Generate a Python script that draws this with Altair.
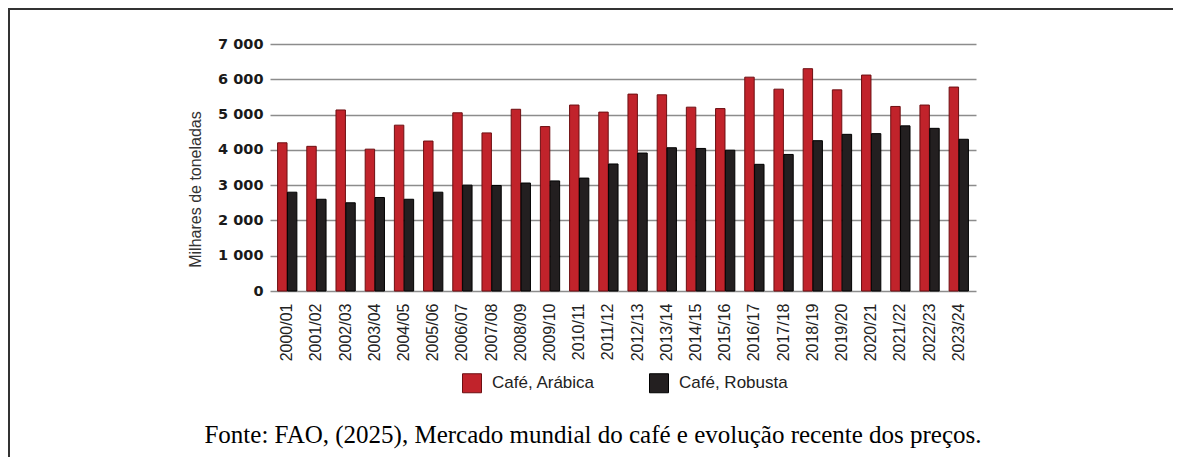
import altair as alt
import pandas as pd

seasons = ["2000/01", "2001/02", "2002/03", "2003/04", "2004/05", "2005/06",
           "2006/07", "2007/08", "2008/09", "2009/10", "2010/11", "2011/12",
           "2012/13", "2013/14", "2014/15", "2015/16", "2016/17", "2017/18",
           "2018/19", "2019/20", "2020/21", "2021/22", "2022/23", "2023/24"]
arabica = [4200, 4100, 5130, 4020, 4700, 4250, 5050, 4480, 5150, 4660, 5270, 5070,
           5580, 5560, 5210, 5170, 6060, 5720, 6300, 5700, 6120, 5230, 5270, 5780]
robusta = [2800, 2600, 2500, 2650, 2600, 2800, 3000, 2990, 3060, 3120, 3200, 3600,
           3910, 4060, 4040, 3990, 3590, 3870, 4260, 4440, 4460, 4680, 4610, 4300]
types = ["Café, Arábica", "Café, Robusta"]
caption = "Fonte: FAO, (2025), Mercado mundial do café e evolução recente dos preços."

rows = []
for s, a, r in zip(seasons, arabica, robusta):
    rows.append({"season": s, "tipo": types[0], "valor": a})
    rows.append({"season": s, "tipo": types[1], "valor": r})
df = pd.DataFrame(rows)

W, H = 706, 247
PL, PT, PR, PB = 262, 36, 197, 166

bars = alt.Chart(df).mark_bar(strokeWidth=1).encode(
    x=alt.X("season:N", sort=seasons,
            scale=alt.Scale(paddingInner=0.34, paddingOuter=0.26),
            axis=alt.Axis(title=None, labelAngle=-90, ticks=False, domain=False,
                          labelPadding=12, labelFont="Liberation Sans",
                          labelFontSize=16, labelColor="#222")),
    xOffset=alt.XOffset("tipo:N", sort=types, scale=alt.Scale(paddingInner=0.04)),
    y=alt.Y("valor:Q", scale=alt.Scale(domain=[0, 7000]),
            axis=alt.Axis(values=[0, 1000, 2000, 3000, 4000, 5000, 6000, 7000],
                          labelExpr="replace(format(datum.value, ','), ',', ' ')",
                          domain=False, ticks=False, labelPadding=7,
                          labelFont="DejaVu Sans", labelFontWeight="bold",
                          labelFontSize=14.5, labelColor="#1a1a1a",
                          gridColor="#8c8c8c", gridWidth=1.5,
                          title="Milhares de toneladas", titleFont="Liberation Sans",
                          titleFontSize=16, titleFontWeight="normal", titleColor="#333",
                          titleX=-67, titleY=145)),
    color=alt.Color("tipo:N", sort=types,
                    scale=alt.Scale(domain=types, range=["#C1232B", "#231F20"]),
                    legend=alt.Legend(title=None, orient="none", legendX=192, legendY=329,
                                      direction="horizontal", symbolType="square",
                                      symbolSize=361, symbolStrokeColor="#2a0a0b",
                                      symbolStrokeWidth=1, labelFont="Liberation Sans",
                                      labelFontSize=17, labelColor="#222",
                                      labelOffset=10, columnPadding=52, padding=0)),
    stroke=alt.Stroke("tipo:N", sort=types,
                      scale=alt.Scale(domain=types, range=["#6E0F12", "#000000"]),
                      legend=None),
)

one = pd.DataFrame({"t": [caption]})

top_border = alt.Chart(one).mark_rule(color="#333", strokeWidth=2).encode(
    x=alt.value(-PL), x2=alt.value(W + PR), y=alt.value(-PT + 1), y2=alt.value(-PT + 1))
left_border = alt.Chart(one).mark_rule(color="#333", strokeWidth=2).encode(
    x=alt.value(-PL + 1), x2=alt.value(-PL + 1), y=alt.value(-PT), y2=alt.value(H + PB))

cap = alt.Chart(one).mark_text(font="Liberation Serif", fontSize=25, color="black",
                               baseline="alphabetic").encode(
    x=alt.value(323), y=alt.value(399), text="t:N")

chart = alt.layer(bars, top_border, left_border, cap).properties(
    width=W, height=H,
    padding={"left": PL, "top": PT, "right": PR, "bottom": PB},
    autosize=alt.AutoSizeParams(type="none"),
    background="white",
).configure_view(stroke=None)

chart.save("out.html", embed_options={"renderer": "svg", "actions": False})
